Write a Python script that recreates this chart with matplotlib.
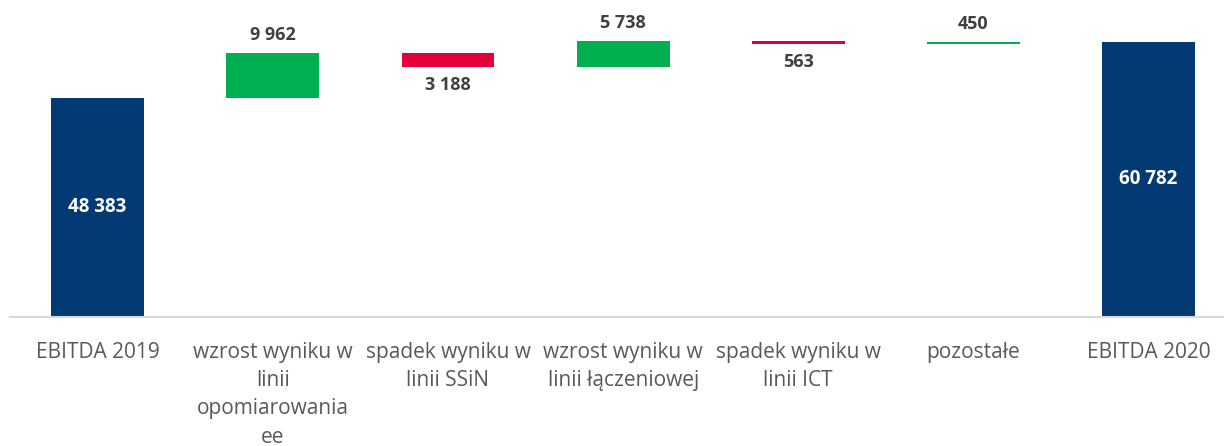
import matplotlib
matplotlib.use("Agg")
import matplotlib.pyplot as plt
import numpy as np

categories = ["EBITDA 2019", "wzrost wyniku w\nlinii\nopomiarowania\nee",
              "spadek wyniku w\nlinii SSiN", "wzrost wyniku w\nlinii łączeniowej",
              "spadek wyniku w\nlinii ICT", "pozostałe", "EBITDA 2020"]
values = [48383, 9962, -3188, 5738, -563, 450, 60782]
kinds = ["total", "delta", "delta", "delta", "delta", "delta", "total"]

NAVY = "#043A74"
GREEN = "#00B050"
RED = "#E4003B"

plt.rcParams['font.family'] = ['Open Sans', 'DejaVu Sans']

W, H = 1224, 446
fig = plt.figure(figsize=(W / 100, H / 100), dpi=100)
ax = fig.add_axes([10 / W, (H - 317) / H, (W - 10) / W, 317 / H])

x = np.arange(len(categories))
bottoms, heights, colors = [], [], []
running = 0
for v, k in zip(values, kinds):
    if k == "total":
        bottoms.append(0)
        heights.append(v)
        colors.append(NAVY)
        running = v
    else:
        if v >= 0:
            bottoms.append(running)
            heights.append(v)
            colors.append(GREEN)
        else:
            bottoms.append(running + v)
            heights.append(-v)
            colors.append(RED)
        running += v

ax.bar(x, heights, bottom=bottoms, width=0.53, color=colors, zorder=2)

def fmt(v):
    return f"{abs(v):,}".replace(",", " ")

for xi, v, k, b, h in zip(x, values, kinds, bottoms, heights):
    if k == "total":
        ax.text(xi, b + h / 2, fmt(v), ha="center", va="center", color="white",
                fontsize=13.5, fontweight="bold")
    elif v >= 0:
        ax.annotate(fmt(v), (xi, b + h), xytext=(0, 13), textcoords="offset points",
                    ha="center", va="center", color="#404040", fontsize=13, fontweight="bold")
    else:
        ax.annotate(fmt(v), (xi, b), xytext=(0, -13), textcoords="offset points",
                    ha="center", va="center", color="#404040", fontsize=13, fontweight="bold")

ax.set_xlim(-0.5, 6.43)
ax.set_ylim(0, 70000)
ax.set_xticks(x)
ax.set_xticklabels(categories, fontsize=15, color="#595959", linespacing=1.45)
ax.tick_params(axis="x", length=0, pad=18)
ax.set_yticks([])
for s in ["top", "right", "left"]:
    ax.spines[s].set_visible(False)
ax.spines["bottom"].set_color("#D9D9D9")
ax.spines["bottom"].set_linewidth(1.5)
ax.patch.set_alpha(0)

fig.savefig("out.png", dpi=100)
